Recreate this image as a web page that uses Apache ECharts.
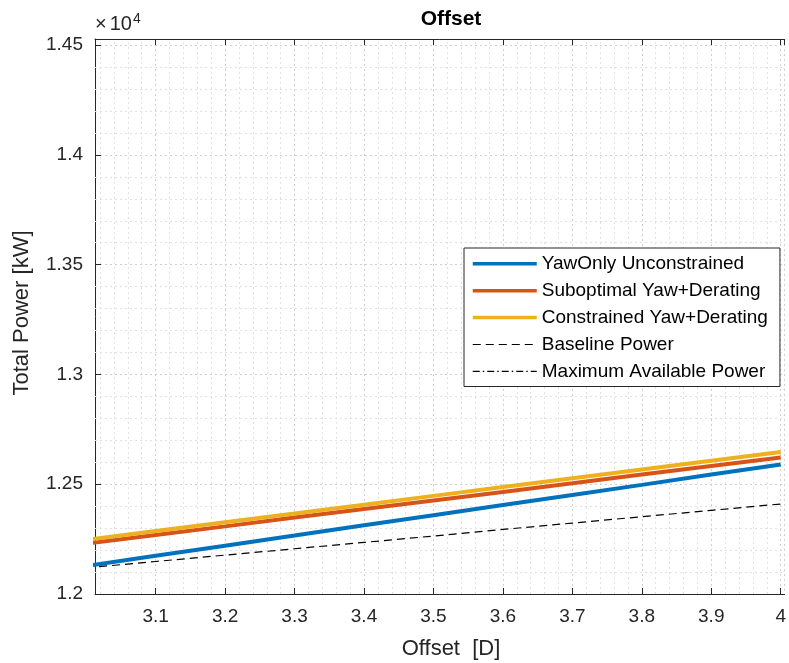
<!DOCTYPE html>
<html>
<head>
<meta charset="utf-8">
<title>Offset</title>
<script src="https://cdn.jsdelivr.net/npm/echarts@6/dist/echarts.min.js"></script>
<style>
  html, body { margin: 0; padding: 0; background: #fff; }
  #chart { width: 789px; height: 663px; }
</style>
</head>
<body>
<div id="chart"></div>
<script>
// Offset [D] along the sweep
const offsets = [3.0, 3.1, 3.2, 3.3, 3.4, 3.5, 3.6, 3.7, 3.8, 3.9, 4.0];

// Total power [kW] for each strategy
const yawOnly      = [12128, 12174, 12220, 12266, 12313, 12359, 12405, 12451, 12497, 12544, 12590];
const suboptimal   = [12230, 12269, 12308, 12348, 12387, 12426, 12465, 12504, 12544, 12583, 12622];
const constrained  = [12247, 12287, 12327, 12367, 12407, 12447, 12487, 12527, 12567, 12607, 12647];
const baseline     = [12119, 12148, 12177, 12206, 12235, 12264, 12294, 12323, 12352, 12381, 12410];
const maxAvailable = [];

const seriesNames = [
  'YawOnly Unconstrained',
  'Suboptimal Yaw+Derating',
  'Constrained Yaw+Derating',
  'Baseline Power',
  'Maximum Available Power'
];

// Axis limits
const xMin = 3.0127, xMax = 4.0057;
const yMin = 12000, yMax = 14528;

const FONT = '"Liberation Sans", Arial, Helvetica, sans-serif';
const AX = '#262626';

function pairs(vals) {
  return offsets.map((x, i) => [x, vals[i]]);
}

// minor grid positions (every 0.02 in x, every 100 in y, skipping majors)
const minorX = [];
for (let k = 151; k <= 200; k++) {
  const v = k * 0.02;
  if (k % 5 !== 0 && v > xMin && v < xMax) minorX.push(+v.toFixed(2));
}
const minorY = [];
for (let k = 121; k <= 145; k++) {
  const v = k * 100;
  if (k % 5 !== 0 && v > yMin && v < yMax) minorY.push(v);
}

const chart = echarts.init(document.getElementById('chart'), null, { renderer: 'canvas' });

const lineBase = { type: 'line', symbol: 'none', showSymbol: false, smooth: false, animation: false };
const legendWidths = [3.5, 3.5, 3.5, 1.2, 1.2];

chart.setOption({
  animation: false,
  backgroundColor: '#ffffff',
  textStyle: { fontFamily: FONT },
  grid: { left: 95, right: 0, top: 39, bottom: 69, containLabel: false },
  graphic: [
    {
      type: 'text', x: 451, y: 19, z: 10,
      style: { text: 'Offset', font: 'bold 21px ' + FONT, fill: '#000', align: 'center', verticalAlign: 'middle' }
    },
    {
      type: 'text', x: 451, y: 649, z: 10,
      style: { text: 'Offset  [D]', font: '22px ' + FONT, fill: AX, align: 'center', verticalAlign: 'middle' }
    },
    {
      type: 'text', x: 22, y: 313, rotation: Math.PI / 2, z: 10,
      style: { text: 'Total Power [kW]', font: '22px ' + FONT, fill: AX, align: 'center', verticalAlign: 'middle' }
    },
    {
      type: 'text', x: 95, y: 36, z: 10,
      style: {
        text: '{x|×}{a|10}{b|4}',
        verticalAlign: 'bottom',
        rich: {
          x: { font: '20px ' + FONT, fill: AX, padding: [0, 3, 0, 0] },
          a: { font: '20px ' + FONT, fill: AX },
          b: { font: '14px ' + FONT, fill: AX, verticalAlign: 'top', padding: [0, 0, 10, 1] }
        }
      }
    }
  ],
  legend: {
    data: seriesNames.map((n, i) => ({ name: n, lineStyle: { width: legendWidths[i] } })),
    orient: 'vertical',
    left: 464, top: 248,
    itemWidth: 64, itemHeight: 14, itemGap: 7.9,
    padding: [6.3, 12, 5.6, 7],
    backgroundColor: '#ffffff',
    borderColor: AX, borderWidth: 1,
    itemStyle: { opacity: 0 },
    textStyle: { fontFamily: FONT, fontSize: 19, color: '#000' },
    selectedMode: false
  },
  xAxis: [
    {
      type: 'value', min: xMin, max: xMax, splitNumber: 10,
      axisLine: { show: true, onZero: false, lineStyle: { color: AX, width: 1 } },
      axisTick: { show: true, inside: true, length: 6, lineStyle: { color: AX } },
      axisLabel: { show: true, showMinLabel: false, showMaxLabel: false, margin: 13,
                   fontFamily: FONT, fontSize: 19, color: AX },
      splitLine: { show: true, lineStyle: { color: '#cfcfcf', type: [2, 3], width: 1 } }
    },
    {
      type: 'value', position: 'top', min: xMin, max: xMax, splitNumber: 10,
      axisLine: { show: true, onZero: false, lineStyle: { color: AX, width: 1 } },
      axisTick: { show: true, inside: true, length: 6, lineStyle: { color: AX } },
      axisLabel: { show: false },
      splitLine: { show: false }
    }
  ],
  yAxis: {
    type: 'value', min: yMin, max: yMax, splitNumber: 5,
    axisLine: { show: true, onZero: false, lineStyle: { color: AX, width: 1 } },
    axisTick: { show: true, inside: true, length: 6, lineStyle: { color: AX } },
    axisLabel: {
      show: true, showMaxLabel: false, margin: 12,
      fontFamily: FONT, fontSize: 19, color: AX,
      formatter: v => String(+(v / 10000).toFixed(3))
    },
    splitLine: { show: true, lineStyle: { color: '#cfcfcf', type: [2, 3], width: 1 } }
  },
  series: [
    {
      ...lineBase, name: '__minorGrid', data: [], z: 1, silent: true,
      markLine: {
        z: 1, silent: true, symbol: ['none', 'none'], label: { show: false }, animation: false,
        lineStyle: { color: '#e1e1e1', type: [2, 3], width: 1 },
        emphasis: { disabled: true },
        data: minorX.map(v => ({ xAxis: v })).concat(minorY.map(v => ({ yAxis: v })))
      }
    },
    { ...lineBase, name: seriesNames[0], data: pairs(yawOnly), z: 3,
      color: '#0072BD', lineStyle: { color: '#0072BD', width: 4 } },
    { ...lineBase, name: seriesNames[1], data: pairs(suboptimal), z: 4,
      color: '#D95319', lineStyle: { color: '#D95319', width: 4 } },
    { ...lineBase, name: seriesNames[2], data: pairs(constrained), z: 5,
      color: '#EDB120', lineStyle: { color: '#EDB120', width: 4 } },
    { ...lineBase, name: seriesNames[3], data: pairs(baseline), z: 6,
      color: '#000000', lineStyle: { color: '#000000', width: 1.2, type: [8, 5] } },
    { ...lineBase, name: seriesNames[4], data: maxAvailable, z: 6,
      color: '#000000', lineStyle: { color: '#000000', width: 1.2, type: [7, 3, 1.5, 3] } }
  ]
});
</script>
</body>
</html>
